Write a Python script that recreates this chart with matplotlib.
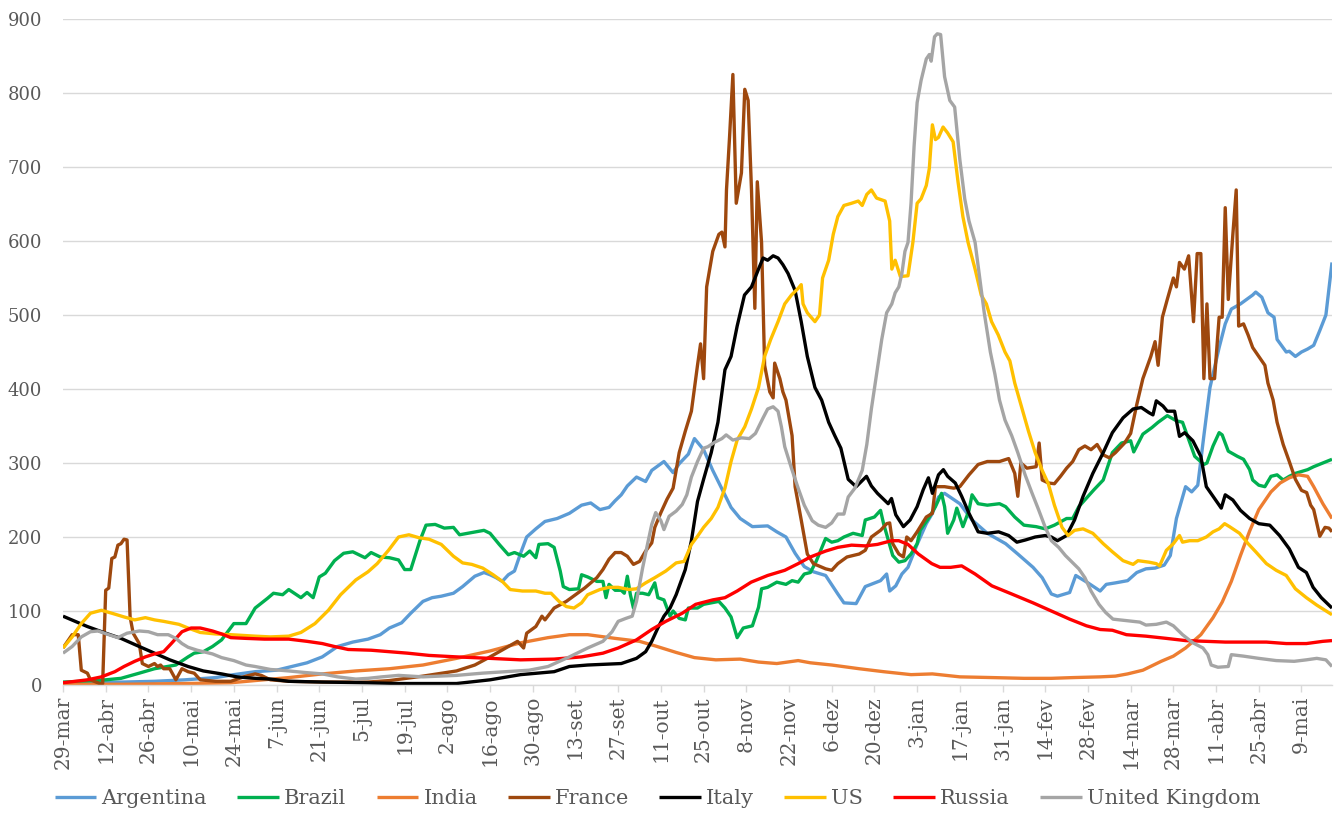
import matplotlib
matplotlib.use("Agg")
import matplotlib.pyplot as plt

plt.rcParams["font.family"] = ["DejaVu Serif"]

# x = days since 29-mar-2020, one tick label every 14 days
TICK_LABELS = [
    "29-mar", "12-abr", "26-abr", "10-mai", "24-mai", "7-jun", "21-jun",
    "5-jul", "19-jul", "2-ago", "16-ago", "30-ago", "13-set", "27-set",
    "11-out", "25-out", "8-nov", "22-nov", "6-dez", "20-dez", "3-jan",
    "17-jan", "31-jan", "14-fev", "28-fev", "14-mar", "28-mar", "11-abr",
    "25-abr", "9-mai",
]
LAST_DAY = 416

# (day, value)
ARGENTINA = [
    (0, 2), (10, 3), (20, 4), (30, 5), (40, 7), (50, 10), (56, 14), (63, 18),
    (70, 20), (74, 24), (80, 30), (85, 38), (90, 52), (95, 58), (100, 62),
    (104, 68), (107, 77), (111, 84), (114, 97), (118, 113), (121, 118),
    (124, 120), (128, 124), (131, 133), (133, 140), (135, 147), (138, 152),
    (140, 149), (142, 145), (144, 140), (146, 149), (148, 154), (150, 178),
    (152, 200), (155, 211), (158, 221), (162, 225), (166, 232), (170, 243),
    (173, 246), (176, 237), (179, 240), (181, 249), (183, 257), (185, 269),
    (188, 281), (191, 275), (193, 290), (197, 302), (200, 287), (202, 299),
    (205, 312), (207, 333), (210, 318), (213, 290), (216, 265), (219, 240),
    (222, 225), (226, 214), (231, 215), (234, 207), (237, 200), (240, 178),
    (243, 160), (246, 153), (250, 148), (254, 123), (256, 111), (260, 110),
    (263, 133), (268, 141), (270, 150), (271, 127), (273, 134), (275, 150),
    (277, 159), (280, 190), (283, 218), (285, 232), (287, 254), (289, 259),
    (294, 245), (298, 223), (303, 205), (309, 191), (313, 177), (318, 159),
    (321, 145), (324, 123), (326, 120), (330, 125), (332, 148), (336, 138),
    (340, 127), (342, 136), (345, 138), (349, 141), (352, 152), (355, 157),
    (358, 158), (361, 162), (363, 175), (365, 225), (368, 268), (370, 261),
    (372, 270), (374, 337), (376, 402), (379, 456), (381, 488), (383, 508),
    (386, 515), (390, 527), (391, 531), (393, 524), (395, 503), (397, 497),
    (398, 467), (401, 450), (402, 451), (404, 444), (406, 450), (408, 454),
    (410, 459), (412, 479), (414, 500), (416, 571),
]

BRAZIL = [
    (0, 4), (7, 5), (14, 7), (19, 9), (25, 16), (30, 22), (37, 27), (41, 38),
    (43, 43), (46, 45), (49, 52), (52, 61), (56, 83), (60, 83), (63, 104),
    (67, 117), (69, 124), (72, 122), (74, 129), (78, 118), (80, 125), (82, 118),
    (84, 146), (86, 151), (89, 168), (92, 178), (95, 180), (99, 172), (101, 179),
    (104, 173), (107, 172), (110, 169), (112, 156), (114, 156), (117, 195),
    (119, 216), (122, 217), (125, 212), (128, 213), (130, 203), (134, 206),
    (138, 209), (140, 205), (143, 190), (146, 176), (148, 179), (151, 174),
    (153, 181), (155, 172), (156, 190), (159, 191), (161, 186), (163, 154),
    (164, 133), (166, 129), (169, 130), (170, 149), (172, 146), (175, 140),
    (177, 140), (178, 118), (179, 136), (181, 128), (183, 128), (184, 124),
    (185, 147), (186, 122), (187, 104), (188, 124), (190, 124), (192, 122),
    (194, 138), (195, 118), (197, 115), (199, 93), (200, 100), (202, 90),
    (204, 88), (205, 104), (208, 104), (210, 109), (215, 113), (217, 104),
    (219, 92), (221, 64), (223, 77), (226, 80), (228, 105), (229, 130),
    (231, 132), (234, 139), (237, 136), (239, 141), (241, 139), (243, 150),
    (245, 152), (247, 168), (250, 198), (252, 193), (254, 195), (256, 200),
    (259, 205), (262, 202), (263, 223), (266, 227), (268, 236), (269, 218),
    (272, 175), (274, 166), (276, 168), (278, 177), (280, 191), (281, 209),
    (284, 227), (286, 241), (288, 259), (289, 241), (290, 205), (292, 223),
    (293, 239), (295, 214), (297, 236), (298, 257), (300, 245), (303, 243),
    (307, 245), (309, 241), (312, 227), (315, 216), (319, 214), (322, 211),
    (325, 216), (329, 225), (331, 225), (333, 241), (338, 264), (341, 277),
    (344, 314), (347, 327), (350, 330), (351, 315), (354, 339), (357, 348),
    (359, 355), (362, 364), (365, 357), (367, 355), (369, 332), (371, 309),
    (374, 298), (375, 300), (377, 323), (379, 341), (380, 338), (382, 316),
    (385, 309), (387, 305), (389, 291), (390, 277), (392, 270), (394, 268),
    (396, 282), (398, 284), (400, 277), (402, 282), (404, 286), (408, 291),
    (410, 295), (413, 300), (416, 305),
]

INDIA = [
    (0, 1), (20, 1), (40, 2), (55, 3), (63, 6), (74, 10), (85, 15), (96, 19),
    (107, 22), (118, 27), (129, 36), (140, 46), (150, 57), (159, 64), (166, 68),
    (172, 68), (181, 63), (189, 59), (194, 53), (201, 44), (207, 37), (214, 34),
    (222, 35), (228, 31), (234, 29), (241, 33), (245, 30), (252, 27), (261, 22),
    (269, 18), (278, 14), (285, 15), (294, 11), (305, 10), (315, 9), (324, 9),
    (331, 10), (340, 11), (345, 12), (349, 15), (354, 20), (360, 32), (364, 39),
    (368, 50), (373, 68), (377, 91), (380, 112), (383, 140), (386, 175),
    (389, 208), (392, 237), (396, 261), (399, 273), (402, 280), (405, 284),
    (408, 282), (410, 268), (413, 245), (416, 225),
]

FRANCE = [
    (0, 50), (3, 68), (5, 68), (6, 20), (8, 16), (9, 7), (12, 2), (13, 2),
    (14, 128), (15, 131), (16, 171), (17, 173), (18, 189), (19, 191), (20, 197),
    (21, 196), (22, 92), (23, 70), (25, 56), (26, 29), (28, 25), (30, 29),
    (31, 25), (32, 27), (33, 22), (35, 22), (37, 7), (39, 22), (41, 18),
    (43, 16), (45, 7), (50, 5), (55, 5), (60, 12), (63, 15), (65, 13), (68, 7),
    (74, 5), (85, 4), (100, 4), (107, 6), (118, 12), (129, 19), (135, 27),
    (140, 38), (143, 45), (146, 52), (149, 59), (151, 50), (152, 70), (155, 79),
    (157, 93), (158, 88), (161, 104), (165, 113), (168, 122), (171, 131),
    (175, 145), (177, 156), (179, 170), (181, 179), (183, 179), (185, 174),
    (187, 163), (189, 167), (191, 181), (193, 192), (194, 213), (196, 233),
    (198, 251), (200, 266), (201, 290), (202, 314), (204, 343), (206, 370),
    (208, 432), (209, 461), (210, 414), (211, 538), (213, 586), (215, 609),
    (216, 612), (217, 592), (217.5, 669), (218.5, 740), (219.6, 825),
    (220.7, 651), (222.4, 692), (223.5, 805), (224.6, 790), (225.7, 669),
    (226.8, 509), (227.6, 680), (229, 598), (230, 432), (231.7, 396),
    (232.8, 388), (233.3, 435), (235, 414), (236, 396), (237, 385), (239, 337),
    (240, 268), (242, 223), (244, 177), (246, 164), (250, 157), (252, 155),
    (254, 164), (257, 173), (261, 177), (263, 182), (265, 200), (268, 209),
    (270, 218), (271, 219), (272, 191), (274, 177), (275.5, 173), (276.6, 200),
    (278, 195), (280, 207), (283, 227), (285, 232), (286, 268), (289, 268),
    (292, 266), (294, 268), (297, 284), (300, 298), (303, 302), (307, 302),
    (310, 306), (312, 286), (313, 255), (314, 300), (316, 293), (319, 295),
    (320, 327), (321, 277), (323, 273), (325, 272), (327, 282), (329, 293),
    (331, 302), (333, 318), (335, 323), (337, 318), (339, 325), (341, 311),
    (343, 307), (345, 314), (348, 327), (350, 340), (352, 379), (354, 414),
    (356.6, 444), (358, 464), (359, 432), (360.4, 497), (362, 521), (364, 550),
    (365, 538), (366, 571), (367.6, 562), (369, 580), (370.6, 491),
    (371.8, 583), (373, 583), (374, 414), (375, 515), (376, 414), (377.5, 414),
    (379, 497), (380, 497), (381, 645), (382, 521), (383.5, 609), (384.6, 669),
    (385.4, 485), (387, 488), (388.5, 473), (390, 456), (393, 438), (394, 432),
    (395, 408), (396.7, 385), (398, 355), (400, 325), (402, 302), (404, 278),
    (406, 263), (407.7, 260), (409, 243), (410, 237), (412, 201), (413.7, 213),
    (415, 212), (416, 207),
]

ITALY = [
    (0, 93), (8, 79), (14, 70), (19, 63), (25, 52), (30, 43), (35, 34),
    (41, 25), (46, 19), (52, 15), (57, 11), (63, 9), (68, 8), (74, 5), (85, 4),
    (100, 3), (110, 2), (129, 2), (140, 7), (150, 14), (161, 18), (166, 25),
    (172, 27), (183, 29), (188, 36), (191, 45), (193, 59), (195, 77), (197, 93),
    (199, 104), (201, 122), (204, 156), (206, 195), (208, 248), (210, 278),
    (212.5, 314), (214.7, 355), (217, 426), (219, 444), (221, 485),
    (223.4, 527), (225.7, 538), (228, 562), (229.5, 577), (231, 574),
    (232.8, 580), (234.4, 577), (236, 568), (237.7, 556), (240, 533),
    (242, 491), (244, 444), (246.5, 402), (248.7, 385), (251, 355), (253, 337),
    (255, 320), (257.4, 278), (260, 268), (263.4, 282), (265, 269), (267, 259),
    (270.5, 245), (271.6, 252), (273, 230), (275.5, 214), (277.7, 223),
    (280, 241), (282, 264), (283.7, 280), (285, 259), (287, 284), (288.6, 291),
    (290, 282), (292.5, 273), (294.6, 255), (297, 232), (300, 207), (303, 205),
    (306.7, 207), (310, 202), (312.7, 193), (315.5, 196), (318.7, 200),
    (322, 202), (324, 200), (326, 195), (329, 202), (331.6, 223), (334.4, 255),
    (337.6, 286), (341, 314), (344, 341), (347.5, 361), (350.8, 373),
    (353.5, 375), (356, 368), (357.3, 365), (358.4, 384), (360.6, 377),
    (362, 370), (364.4, 370), (366, 336), (367.7, 341), (370.4, 330),
    (373, 309), (374.8, 268), (377, 255), (379.7, 239), (381, 257),
    (383.5, 250), (386, 236), (389, 225), (392, 218), (395.6, 216),
    (398.8, 202), (402, 184), (405, 159), (407.6, 152), (409.8, 132),
    (412.5, 118), (416, 104),
]

US = [
    (0, 50), (3, 65), (6, 83), (9, 97), (12.6, 101), (16, 97), (20, 92),
    (23.5, 88), (27, 91), (30, 88), (33, 86), (38, 82), (41, 77), (45, 71),
    (50, 69), (55, 68), (63, 66), (68, 65), (74, 66), (78, 71), (82.6, 83),
    (87, 101), (91, 122), (96, 142), (100, 153), (103, 164), (106.7, 182),
    (110, 200), (113.4, 203), (116.7, 199), (120, 197), (124, 190), (128, 174),
    (131, 165), (134, 163), (137.6, 158), (141, 149), (144, 140), (146.6, 129),
    (150.6, 127), (155, 127), (158, 124), (160, 124), (162.6, 113), (165, 106),
    (167.5, 104), (170, 111), (172, 122), (176, 129), (179, 132), (182, 132),
    (185.5, 129), (188, 130), (191, 138), (194, 145), (197.6, 154), (201, 165),
    (203.6, 167), (206, 190), (208, 201), (210, 213), (212.5, 225),
    (214.7, 240), (217, 266), (219, 302), (221, 331), (223.5, 349),
    (225.7, 373), (228, 402), (230, 444), (232, 467), (234.4, 491),
    (236.6, 515), (238.8, 527), (241, 536), (242, 541), (242.6, 515),
    (244, 503), (246.5, 491), (248, 500), (249, 550), (251, 574), (252.5, 609),
    (254, 633), (256, 648), (258.5, 651), (260.7, 654), (262, 648),
    (263.5, 663), (265, 669), (266.7, 658), (269.5, 654), (271, 627),
    (271.7, 562), (272.8, 574), (274.5, 552), (277, 553), (278.6, 598),
    (280, 651), (281.3, 657), (283, 675), (284, 698), (285, 757), (286, 737),
    (287, 740), (288.5, 754), (290, 746), (291.8, 734), (293.4, 680),
    (295, 633), (296.7, 598), (299, 562), (301, 527), (302.7, 515),
    (304.4, 491), (306.6, 473), (308.8, 450), (310.4, 438), (312, 408),
    (314, 379), (316.5, 343), (318.7, 314), (321, 290), (323, 272), (325, 243),
    (327.5, 213), (329.5, 202), (331.6, 209), (334.4, 211), (337.6, 205),
    (341, 191), (344, 180), (347.5, 168), (350.8, 163), (352.4, 168),
    (356, 166), (358.4, 164), (359.5, 161), (361.7, 182), (364, 191),
    (366, 202), (367, 193), (369.3, 195), (372, 195), (374.8, 200), (377, 207),
    (379, 211), (380.8, 218), (382.4, 214), (385.7, 205), (388.5, 191),
    (391, 180), (394.5, 164), (397.7, 155), (401, 148), (404, 130),
    (407.6, 118), (411, 108), (416, 95),
]

RUSSIA = [
    (0, 3), (8, 7), (12.6, 11), (17, 18), (20, 25), (23.5, 32), (27, 38),
    (30, 42), (33, 45), (35.5, 56), (39, 72), (42, 77), (45, 77), (49, 73),
    (52, 69), (55, 64), (60, 63), (66, 62), (74, 62), (80, 59), (85, 56),
    (89, 52), (93.5, 48), (101, 47), (107, 45), (113, 43), (120, 40), (129, 38),
    (140, 36), (150, 34), (161, 35), (170, 38), (177, 43), (182, 50), (188, 61),
    (193, 75), (197.6, 86), (203, 97), (207.4, 109), (213, 115), (217, 118),
    (221, 127), (225.6, 139), (231, 148), (236.6, 155), (241, 164), (245, 173),
    (250, 181), (254, 186), (258.5, 189), (263, 188), (267, 190), (271.6, 195),
    (274, 195), (277, 190), (280.4, 177), (284.8, 164), (287.5, 159),
    (291, 159), (294.6, 161), (299, 150), (304.5, 134), (311, 123), (318, 111),
    (324, 100), (330, 89), (335.5, 80), (340, 75), (344, 74), (348.6, 68),
    (355, 66), (361.7, 63), (368, 60), (374.8, 59), (381, 58), (388, 58),
    (394.5, 58), (401, 56), (407.6, 56), (413, 59), (416, 60),
]

UNITED_KINGDOM = [
    (0, 43), (3, 52), (6, 65), (9, 72), (11.5, 73), (15, 68), (18, 64),
    (21, 70), (25, 73), (28, 72), (31, 68), (34.5, 68), (37, 63), (39, 56),
    (41, 51), (44, 47), (49, 42), (52, 37), (56, 33), (60, 27), (63, 25),
    (68, 21), (74, 19), (79, 17), (85, 15), (90, 11), (96, 8), (100, 9),
    (104.5, 11), (110, 13), (118, 11), (129, 13), (137.5, 16), (145, 18),
    (152.8, 20), (159, 25), (166, 38), (172, 50), (177, 59), (180, 72),
    (182, 86), (184.5, 90), (186.6, 93), (188, 113), (190, 158), (191.6, 190),
    (193, 217), (194.3, 233), (196, 222), (197, 210), (198.7, 228), (201, 235),
    (203, 244), (204.5, 257), (206, 281), (208, 302), (210, 320), (211.4, 322),
    (213.6, 328), (216, 333), (217.4, 338), (219.6, 331), (222.4, 334),
    (225, 333), (227, 340), (229.5, 361), (231, 373), (232.8, 376),
    (234.4, 370), (235.5, 349), (236.6, 322), (238.8, 293), (241, 266),
    (243, 243), (245.6, 222), (247.6, 216), (250, 213), (252, 219), (254, 231),
    (256, 231), (257.4, 254), (259.6, 266), (262, 290), (263.5, 325),
    (265, 373), (266.7, 420), (268.4, 467), (270, 503), (271.7, 515),
    (272.8, 530), (274, 538), (275, 556), (276, 586), (277, 598), (278, 651),
    (279, 728), (280, 787), (281.3, 817), (283, 846), (284, 852), (284.6, 843),
    (285.7, 876), (286.6, 880), (287.7, 879), (289, 822), (290.7, 790),
    (292.3, 781), (294, 710), (295.6, 657), (297, 627), (299, 598),
    (300.5, 550), (302, 503), (304, 450), (305.5, 420), (307, 385),
    (308.8, 358), (311, 337), (313, 314), (315.4, 284), (317.6, 260),
    (319.8, 237), (322, 213), (324, 195), (326.4, 186), (328.6, 175),
    (330.8, 166), (333, 157), (335, 145), (337, 127), (339.6, 109),
    (341.8, 98), (344.2, 89), (348.6, 87), (353, 85), (355, 81), (358.4, 82),
    (361.7, 85), (364, 80), (367, 68), (370.4, 57), (373.7, 50), (375.3, 41),
    (376.4, 27), (378.6, 24), (382, 25), (383, 41), (387, 39), (392, 36),
    (397.7, 33), (403.6, 32), (407.6, 34), (411, 36), (414, 34), (416, 25),
]

SERIES = [
    ("Argentina", ARGENTINA, "#5B9BD5"),
    ("Brazil", BRAZIL, "#00B050"),
    ("India", INDIA, "#ED7D31"),
    ("France", FRANCE, "#9E480E"),
    ("Italy", ITALY, "#000000"),
    ("US", US, "#FFC000"),
    ("Russia", RUSSIA, "#FF0000"),
    ("United Kingdom", UNITED_KINGDOM, "#A5A5A5"),
]

W, H = 1342, 816
fig = plt.figure(figsize=(W / 100, H / 100), dpi=100)
ax = fig.add_axes([63 / W, 1 - 685 / H, (1332 - 63) / W, (685 - 19) / H])

for name, pts, color in SERIES:
    days, vals = zip(*pts)
    ax.plot(days, vals, color=color, lw=2.4, label=name,
            solid_joinstyle="round", solid_capstyle="butt")

ax.set_xlim(0, LAST_DAY)
ax.set_ylim(0, 900)
ax.set_yticks(range(0, 901, 100))
ax.set_xticks(range(0, 14 * len(TICK_LABELS), 14))
ax.set_xticklabels(TICK_LABELS, rotation=90)

ax.grid(axis="y", color="#D9D9D9", lw=1)
ax.set_axisbelow(True)
for side in ("top", "right", "left"):
    ax.spines[side].set_visible(False)
ax.spines["bottom"].set_color("#D9D9D9")
ax.spines["bottom"].set_linewidth(1)

ax.tick_params(axis="x", length=5, width=1, color="#D9D9D9",
               labelsize=14.5, labelcolor="#595959", pad=3)
ax.tick_params(axis="y", length=0, labelsize=13, labelcolor="#595959", pad=15)

fig.legend(*ax.get_legend_handles_labels(), loc="lower center",
           bbox_to_anchor=(0.49, -0.013), ncol=8, frameon=False,
           fontsize=15, handlelength=2.0, handletextpad=0.25,
           columnspacing=1.45, labelcolor="#595959")

fig.savefig("out.png", dpi=100)
